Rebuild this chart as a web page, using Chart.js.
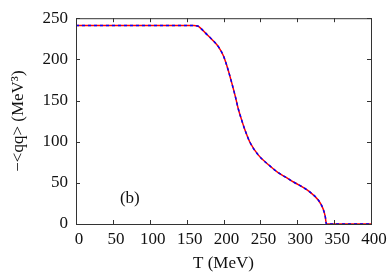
<!DOCTYPE html>
<html>
<head>
<meta charset="utf-8">
<script src="https://cdn.jsdelivr.net/npm/chart.js@4/dist/chart.umd.min.js"></script>
<style>
  html, body { margin: 0; padding: 0; background: #fff; }
  #wrap { width: 392px; height: 274px; }
</style>
</head>
<body>
<div id="wrap"><canvas id="myChart" width="392" height="274"></canvas></div>
<script>
// temperature T (MeV) and condensate -<qq> (MeV^3)
const temps = [0, 50, 100, 150, 160, 165, 170, 175, 184, 193, 200, 206, 211, 216, 220, 224, 229, 236, 247, 261, 274, 286, 295, 304, 317, 329, 335, 338, 339.5, 350, 400];
const condRed = [241, 241, 241, 241, 241, 240.5, 237, 232.5, 224.5, 215.5, 204, 188, 172, 155, 140, 128, 114.5, 99, 84, 72, 62.5, 56, 51, 46.5, 39, 28.5, 18.5, 9, 0, 0, 0];
const condBlue = condRed.slice();
const xTicks = [0, 50, 100, 150, 200, 250, 300, 350, 400];
const yTicks = [0, 50, 100, 150, 200, 250];

const serif = "'Liberation Serif', 'DejaVu Serif', serif";
const ink = '#333';

function points(xs, ys) {
    return xs.map(function (x, i) { return { x: x, y: ys[i] }; });
}

// frame with inward ticks on all four sides, plus the "(b)" label
const framePlugin = {
    id: 'frame',
    afterDraw: function (chart) {
        const ctx = chart.ctx;
        const a = chart.chartArea;
        const xs = chart.scales.x;
        const ys = chart.scales.y;
        const len = 4;
        ctx.save();
        ctx.strokeStyle = ink;
        ctx.lineWidth = 1;
        ctx.strokeRect(a.left + 0.5, a.top + 0.5, a.right - a.left, a.bottom - a.top);
        ctx.beginPath();
        xTicks.forEach(function (t) {
            const px = Math.round(xs.getPixelForValue(t)) + 0.5;
            ctx.moveTo(px, a.bottom);
            ctx.lineTo(px, a.bottom - len);
            ctx.moveTo(px, a.top);
            ctx.lineTo(px, a.top + len);
        });
        yTicks.forEach(function (t) {
            const py = Math.round(ys.getPixelForValue(t)) + 0.5;
            ctx.moveTo(a.left, py);
            ctx.lineTo(a.left + len, py);
            ctx.moveTo(a.right, py);
            ctx.lineTo(a.right - len, py);
        });
        ctx.stroke();
        ctx.fillStyle = '#111';
        ctx.font = '17px ' + serif;
        ctx.textAlign = 'center';
        ctx.textBaseline = 'middle';
        ctx.fillText('(b)', xs.getPixelForValue(73), ys.getPixelForValue(31));
        ctx.restore();
    }
};

const data = {
    datasets: [{
        label: 'red',
        data: points(temps, condRed),
        borderColor: 'rgb(255, 0, 0)',
        borderWidth: 1.5,
        pointRadius: 0,
        cubicInterpolationMode: 'monotone',
        order: 2
    }, {
        label: 'blue',
        data: points(temps, condBlue),
        borderColor: 'rgb(0, 0, 255)',
        borderWidth: 1.5,
        borderDash: [3, 3],
        pointRadius: 0,
        cubicInterpolationMode: 'monotone',
        order: 1
    }]
};

const config = {
    type: 'line',
    data: data,
    options: {
        responsive: false,
        animation: false,
        layout: { padding: { top: 8, right: 21, left: 0, bottom: 0 } },
        plugins: { legend: { display: false }, tooltip: { enabled: false } },
        scales: {
            x: {
                type: 'linear',
                min: 0,
                max: 400,
                afterFit: function (s) { s.height = 50; },
                afterBuildTicks: function (s) { s.ticks = xTicks.map(function (v) { return { value: v }; }); },
                grid: { display: false, drawTicks: false },
                border: { display: false },
                ticks: { color: '#111', font: { family: serif, size: 17 }, padding: 5, labelOffset: 3, maxRotation: 0 },
                title: { display: true, text: 'T (MeV)', color: '#111', font: { family: serif, size: 17 }, padding: { top: 2, bottom: 0 } }
            },
            y: {
                min: 0,
                max: 250,
                afterFit: function (s) { s.width = 76; },
                afterBuildTicks: function (s) { s.ticks = yTicks.map(function (v) { return { value: v }; }); },
                grid: { display: false, drawTicks: false },
                border: { display: false },
                ticks: { color: '#111', font: { family: serif, size: 17 }, padding: 8 },
                title: { display: true, text: '−<qq> (MeV³)', color: '#111', font: { family: serif, size: 17 }, padding: { top: 8, bottom: 0 } }
            }
        }
    },
    plugins: [framePlugin]
};

const myChart = new Chart(document.getElementById('myChart'), config);
</script>
</body>
</html>
